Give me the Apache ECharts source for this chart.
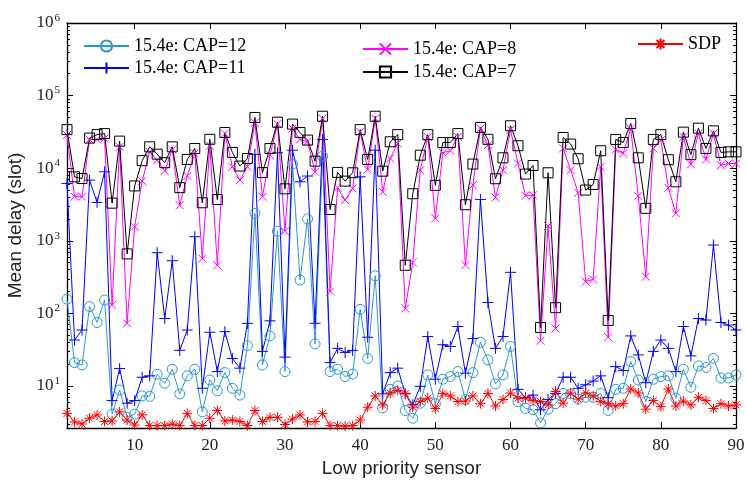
<!DOCTYPE html>
<html>
<head>
<meta charset="utf-8">
<script src="https://cdn.jsdelivr.net/npm/echarts@6/dist/echarts.min.js"></script>
<style>
html,body{margin:0;padding:0;background:#fff;}
#chart{width:746px;height:480px;}
</style>
</head>
<body>
<div id="chart"></div>
<script>
const sensors = Array.from({length: 90}, (_, i) => i + 1);
const xTicks = [10, 20, 30, 40, 50, 60, 70, 80, 90];
const yMajor = [10, 100, 1000, 10000, 100000, 1000000];
const yMinor = [3,4,5,6,7,8,9,20,30,40,50,60,70,80,90,200,300,400,500,600,700,800,900,
  2000,3000,4000,5000,6000,7000,8000,9000,20000,30000,40000,50000,60000,70000,80000,90000,
  200000,300000,400000,500000,600000,700000,800000,900000];
const seriesNames = ['15.4e: CAP=12', '15.4e: CAP=11', '15.4e: CAP=8', '15.4e: CAP=7', 'SDP'];

const cap12 = [157,21,19.5,124,75,153,4.1,8.8,3.7,4.1,
  7.3,7.2,14.5,10.9,17,7.8,13.8,17,4.4,12.1,
  8.6,15.3,9.3,7.5,36,2390,19.5,49,1360,15.8,
  11400,288,2000,38,14600,15.8,17,13.5,14.6,114,
  24,330,5.0,9.0,10,4.6,3.6,5.8,14.2,5.7,
  12.4,13.5,15.8,6.5,15.3,40,22.9,10.7,14.2,35,
  6.1,4.9,4.7,3.1,4.8,5.7,7.9,7.8,6.6,7.0,
  7.0,7.9,4.6,9.0,9.3,21.7,12.1,6.1,12.4,13.5,
  13.8,6.8,17,9.6,18.9,18,24,12.9,12.9,14.2];
const cap11 = [6170,43,59,6850,3380,8930,6.3,17.4,5.8,6.3,
  13.2,13.8,686,85,532,31,59,1140,9.3,55,
  15.8,56,24,17.6,73,15500,30,79,16300,25,
  17700,6500,7800,73,24900,21,33,29,31,7600,
  47,17700,7.8,15.3,17.6,7.8,5.5,9.9,48,12.4,
  37,35,66,15,45,3700,141,33,48,368,
  9.0,6.9,7.5,4.7,6.5,7.9,13.2,13.2,9.3,10.4,
  11.7,13.8,6.9,18.5,16.3,49,26.8,11.1,30,43,
  33,15.8,66,26,85,81,875,75,69,59];
const cap8 = [28600,4050,4050,24900,24900,25700,131,19700,73,1560,
  6640,16800,12900,9200,18100,3080,7800,16000,570,20400,
  460,30000,10500,6850,10500,42200,4050,15100,40500,1350,
  35200,24900,23100,8930,48400,200,5380,3640,5260,31700,
  9600,48400,4730,13600,21900,117,505,9400,27000,2040,
  16300,17400,27000,464,5850,35200,20800,3960,9400,34000,
  11600,4170,4250,42,1600,62,18700,9400,4590,274,
  294,10500,47,18100,16000,35200,4130,320,18700,24400,
  5380,2390,27000,11300,30000,13200,30000,11000,11600,11600];
const cap7 = [34000,7600,7200,26000,29000,30000,3300,23600,660,5700,
  12700,19700,15600,11900,19700,5400,13200,18700,3340,25000,
  3700,31000,16500,10700,13600,50000,8700,18700,43000,5200,
  40500,31000,24400,12500,52000,2700,8750,6640,8650,34000,
  13200,52000,9100,23100,29000,460,4450,15100,29000,5800,
  22600,22600,30000,3140,11400,36400,25000,7160,13900,38400,
  20400,8300,10900,64,8650,120,26500,21500,13500,5000,
  5970,17400,80,24900,22600,41300,13900,2800,24900,29000,
  13100,6500,31400,15400,35600,18700,32700,16500,16800,16800];
const sdp = [4.2,3.2,3.0,3.6,4.0,3.25,3.3,4.4,3.4,2.9,
  4.0,2.85,2.85,2.85,3.0,2.85,4.2,2.85,2.85,3.6,
  4.6,3.3,3.4,3.25,2.85,4.6,3.25,3.7,3.7,2.95,
  3.5,4.0,3.2,3.25,4.2,2.85,2.85,2.8,2.85,3.4,
  5.1,7.3,5.5,8.0,8.7,7.9,5.1,6.1,6.8,4.9,
  7.9,7.3,6.1,6.2,7.3,5.7,7.9,5.3,6.5,8.0,
  6.8,6.8,6.3,6.1,5.5,8.4,5.8,8.0,6.6,8.0,
  7.3,6.1,5.7,5.3,5.7,9.1,8.0,4.8,6.3,5.2,
  9.1,5.3,6.2,5.5,7.0,6.3,4.9,5.7,5.3,5.5];

const Y_MIN = 2.64, Y_MAX = 1000000;
const SERIF = 'Liberation Serif, Times New Roman, serif';
const SANS = 'Liberation Sans, Arial, sans-serif';

const C12 = '#2a98d0', C11 = '#0000ff', C8 = '#ff00ff', C7 = '#000000', CS = '#ff0000';
const PLUS = 'path://M0,5L10,5M5,0L5,10';
const CROSS = 'path://M0,0L10,10M0,10L10,0';
const STAR = 'path://M5,0L5,10M0,5L10,5M1.5,1.5L8.5,8.5M1.5,8.5L8.5,1.5';

function mk(name, vals, color, symbol, size, filled) {
  return {
    type: 'line', name: name,
    data: sensors.map((x, i) => [x, vals[i]]),
    symbol: symbol, symbolSize: size, showAllSymbol: true,
    lineStyle: {color: color, width: 1},
    itemStyle: {color: filled ? color : 'transparent', borderColor: color, borderWidth: 1},
    emphasis: {disabled: true},
    animation: false
  };
}

function yAxisBase(pos) {
  return {
    type: 'log', logBase: 10, min: Y_MIN, max: Y_MAX, position: pos,
    splitLine: {show: false}, minorTick: {show: false}, minorSplitLine: {show: false}
  };
}

const legendText = {fontFamily: SERIF, fontSize: 18, color: '#000'};
const chart = echarts.init(document.getElementById('chart'), null, {renderer: 'canvas'});
chart.setOption({
  animation: false,
  backgroundColor: '#fff',
  grid: {left: 67, right: 10, top: 23, bottom: 52, outerBoundsMode: 'none', containLabel: false},
  legend: [
    {data: [seriesNames[0], seriesNames[1]], orient: 'vertical', left: 78, top: 32,
     itemWidth: 45, itemHeight: 14, itemGap: 4, selectedMode: false, textStyle: legendText},
    {data: [seriesNames[2], seriesNames[3]], orient: 'vertical', left: 357, top: 35,
     itemWidth: 45, itemHeight: 14, itemGap: 5, selectedMode: false, textStyle: legendText},
    {data: [seriesNames[4]], orient: 'vertical', left: 632, top: 30,
     itemWidth: 45, itemHeight: 14, selectedMode: false, textStyle: legendText}
  ],
  xAxis: [
    {type: 'value', min: 1, max: 90, position: 'bottom',
     axisLine: {show: true, lineStyle: {color: '#000', width: 1.3}},
     axisTick: {show: true, inside: true, length: 6, customValues: xTicks, lineStyle: {color: '#000'}},
     axisLabel: {customValues: xTicks, fontFamily: SERIF, fontSize: 17, color: '#222', margin: 9},
     splitLine: {show: false},
     name: 'Low priority sensor', nameLocation: 'middle', nameGap: 28,
     nameTextStyle: {fontFamily: SANS, fontSize: 19, color: '#222'}},
    {type: 'value', min: 1, max: 90, position: 'top',
     axisLine: {show: true, lineStyle: {color: '#000', width: 1.3}},
     axisTick: {show: true, inside: true, length: 6, customValues: xTicks, lineStyle: {color: '#000'}},
     axisLabel: {show: false}, splitLine: {show: false}}
  ],
  yAxis: [
    Object.assign(yAxisBase('left'), {
      axisLine: {show: true, lineStyle: {color: '#000', width: 1.3}},
      axisTick: {show: true, inside: true, length: 6, customValues: yMajor, lineStyle: {color: '#000'}},
      axisLabel: {customValues: yMajor, margin: 7, color: '#222',
        formatter: v => '{b|10}{s|' + Math.round(Math.log10(v)) + '}',
        rich: {b: {fontFamily: SERIF, fontSize: 17, color: '#222'},
               s: {fontFamily: SERIF, fontSize: 11, color: '#222', padding: [0, 0, 10, 1]}}},
      name: 'Mean delay (slot)', nameLocation: 'middle', nameGap: 38, nameRotate: 90,
      nameTextStyle: {fontFamily: SANS, fontSize: 19, color: '#222'}
    }),
    Object.assign(yAxisBase('right'), {
      axisLine: {show: true, lineStyle: {color: '#000', width: 1.3}},
      axisTick: {show: true, inside: true, length: 6, customValues: yMajor, lineStyle: {color: '#000'}},
      axisLabel: {show: false}
    }),
    Object.assign(yAxisBase('left'), {
      axisLine: {show: false},
      axisTick: {show: true, inside: true, length: 3, customValues: yMinor, lineStyle: {color: '#000'}},
      axisLabel: {show: false}
    }),
    Object.assign(yAxisBase('right'), {
      axisLine: {show: false},
      axisTick: {show: true, inside: true, length: 3, customValues: yMinor, lineStyle: {color: '#000'}},
      axisLabel: {show: false}
    })
  ],
  series: [
    mk(seriesNames[0], cap12, C12, 'circle', 10, false),
    mk(seriesNames[1], cap11, C11, PLUS, 11, true),
    mk(seriesNames[2], cap8, C8, CROSS, 8, true),
    mk(seriesNames[3], cap7, C7, 'rect', 10, false),
    mk(seriesNames[4], sdp, CS, STAR, 10, true)
  ]
});
</script>
</body>
</html>
